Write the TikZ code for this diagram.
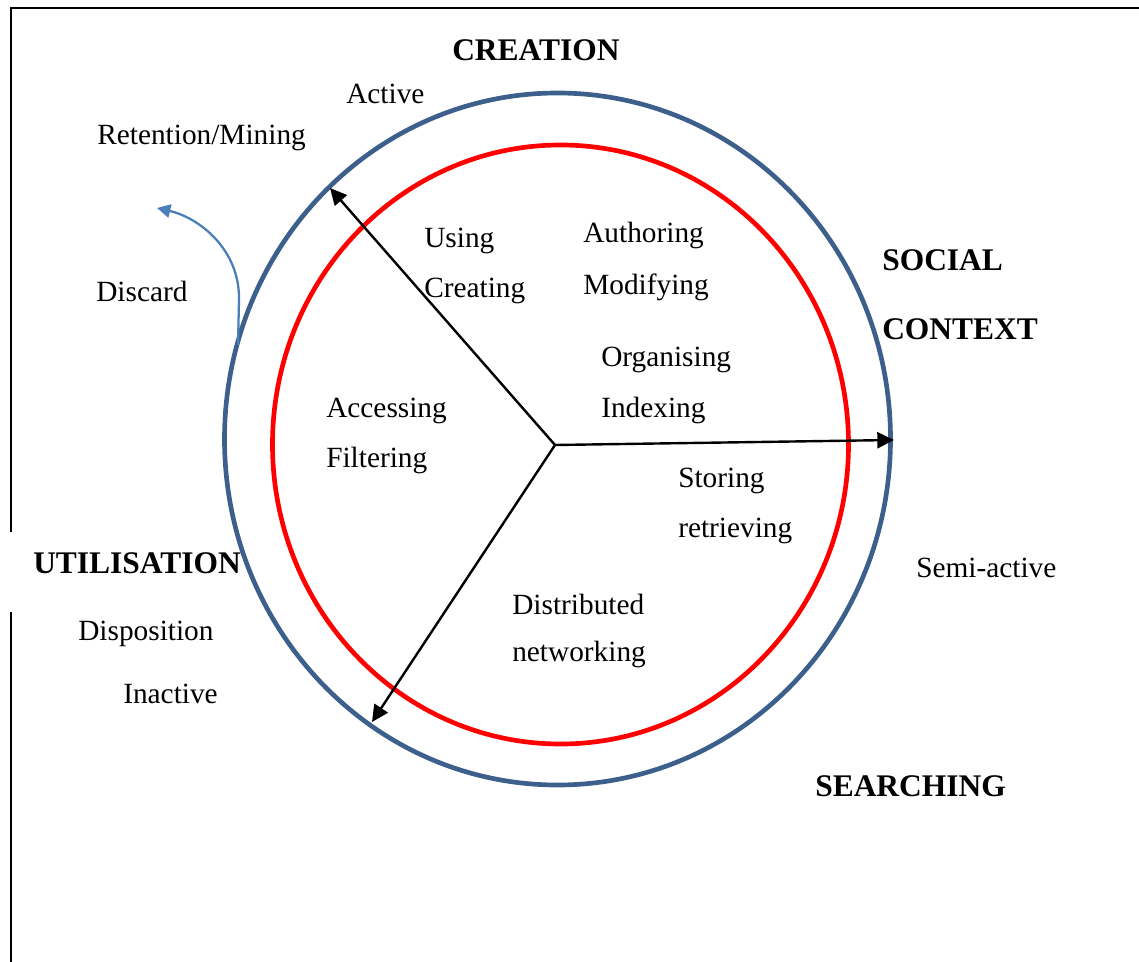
\documentclass[tikz,border=0pt]{standalone}
\usepackage{fontspec}
\setmainfont{Liberation Serif}
\usetikzlibrary{arrows.meta}
\definecolor{outerblue}{HTML}{3C5F8C}
\definecolor{lightblue}{HTML}{4A7EBB}
\tikzset{
  lbl/.style={anchor=west,inner sep=0pt,yshift=-2.2pt,font=\fontsize{22}{24}\selectfont},
  hdr/.style={anchor=west,inner sep=0pt,font=\fontsize{23.6}{26}\selectfont\bfseries},
  axis/.style={black,line width=1.8pt,-{Triangle[length=12.5pt,width=12pt]}},
}
\begin{document}
\begin{tikzpicture}[x=0.75pt,y=-0.75pt]
\useasboundingbox (0,0) rectangle (1139,962);
% border
\draw[line width=2pt] (11,532) -- (11,8) -- (1139,8);
\draw[line width=2pt] (11,612) -- (11,962);
% circles
\draw[outerblue,line width=3.5pt] (557.5,439) ellipse [x radius=333,y radius=346];
\draw[red,line width=3.5pt] (560.5,444.5) ellipse [x radius=288,y radius=299.5];
% center and arrow ends
\coordinate (c) at (555,445);
\coordinate (a1) at (330,188);
\coordinate (a2) at (894,440);
\coordinate (a3) at (372,722);
\draw[axis] (c) -- (a1);
\draw[axis] (c) -- (a2);
\draw[axis] (c) -- (a3);
% discard arrow
\coordinate (d0) at (238,345);
\coordinate (d1) at (157,208);
\draw[lightblue,line width=1.7pt,-{Triangle[length=10pt,width=10pt]}] (d0) -- (239,300) .. controls (240,250) and (200,218) .. (d1);
% labels
\node[hdr] (creation) at (452,50) {CREATION};
\node[lbl] (active) at (346,91) {Active};
\node[lbl] (ret) at (97,135) {Retention/Mining};
\node[lbl] (discard) at (96,289) {Discard};
\node[lbl] (using) at (424,238) {Using};
\node[lbl] (creating) at (424,288) {Creating};
\node[lbl] (auth) at (583,233) {Authoring};
\node[lbl] (mod) at (583,284) {Modifying};
\node[hdr] (social) at (882,260) {SOCIAL};
\node[hdr] (context) at (882,329) {CONTEXT};
\node[lbl] (org) at (601,357) {Organising};
\node[lbl] (idx) at (601,408) {Indexing};
\node[lbl] (acc) at (326,408) {Accessing};
\node[lbl] (filt) at (326,458) {Filtering};
\node[lbl] (stor) at (678,478) {Storing};
\node[lbl] (retr) at (678,528) {retrieving};
\node[lbl] (semi) at (916,565) {Semi-active};
\node[hdr] (util) at (33,563) {UTILISATION};
\node[lbl] (dist) at (512,602) {Distributed};
\node[lbl] (net) at (512,652) {networking};
\node[lbl] (disp) at (78,631) {Disposition};
\node[lbl] (inact) at (123,691) {Inactive};
\node[hdr] (search) at (815,786) {SEARCHING};
\end{tikzpicture}
\end{document}
